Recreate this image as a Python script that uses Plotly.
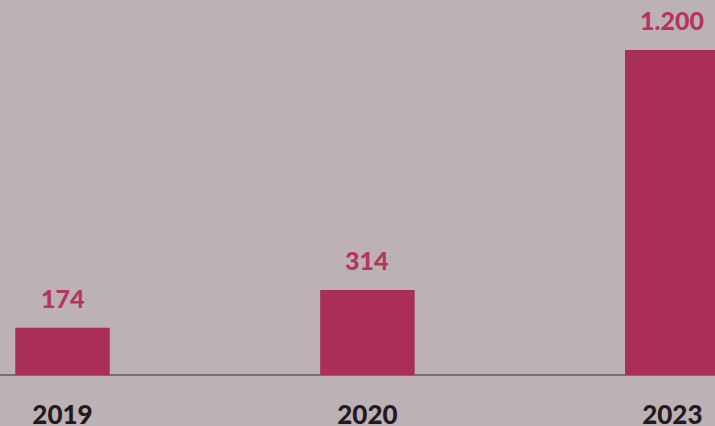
import plotly.graph_objects as go

years = ["2019", "2020", "2023"]
values = [174, 314, 1200]
value_labels = ["174", "314", "1.200"]

positions = list(range(len(years)))

fig = go.Figure()
fig.add_trace(go.Bar(
    x=positions,
    y=values,
    width=0.31,
    marker=dict(color="#aa2f58", line=dict(width=0)),
    hoverinfo="skip",
))

for xp, v, lab in zip(positions, values, value_labels):
    fig.add_annotation(
        x=xp, y=v, xref="x", yref="y",
        text=lab,
        showarrow=False,
        yanchor="bottom",
        yshift=13,
        font=dict(family="Lato, 'Open Sans', sans-serif", size=25, color="#b7345f", weight=900),
    )

fig.update_layout(
    width=715, height=426,
    margin=dict(l=0, r=0, t=0, b=51),
    paper_bgcolor="#bcb1b5",
    plot_bgcolor="rgba(0,0,0,0)",
    showlegend=False,
    xaxis=dict(
        range=[-0.205, 2.14],
        tickmode="array",
        tickvals=positions,
        ticktext=years,
        tickfont=dict(family="Lato, 'Open Sans', sans-serif", size=26, color="#221a1e", weight=900),
        showgrid=False, zeroline=False,
        showline=False,
        ticks="",
        ticklabelstandoff=22,
        automargin=False,
    ),
    yaxis=dict(
        range=[0, 1384.6],
        visible=True, showticklabels=False, showgrid=False,
        zeroline=True, zerolinecolor="#777070", zerolinewidth=2,
        showline=False, ticks="",
        automargin=False,
    ),
)

fig.write_html(
    "out.html",
    config={"displayModeBar": False},
    post_script="document.body.style.margin='0';document.body.style.background='#bcb1b5';",
)
